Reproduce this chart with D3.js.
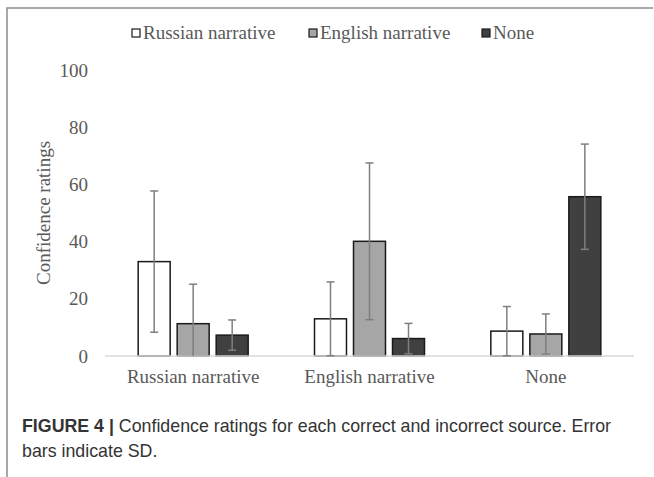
<!DOCTYPE html>
<html>
<head>
<meta charset="utf-8">
<script src="https://cdn.jsdelivr.net/npm/d3@7"></script>
<style>
  body { margin: 0; background: #fff; }
  svg { display: block; }
</style>
</head>
<body>
<div id="chart"></div>
<script>
// categories along the x axis and the three series (source chosen)
const categories = ["Russian narrative", "English narrative", "None"];
const seriesNames = ["Russian narrative", "English narrative", "None"];

// mean confidence per category, one array per series
const russianMean = [33.0, 13.0, 8.7];
const englishMean = [11.3, 40.1, 7.7];
const noneMean = [7.3, 6.1, 55.7];

// standard deviations (error bars)
const russianSD = [24.7, 12.9, 8.6];
const englishSD = [13.8, 27.4, 7.0];
const noneSD = [5.3, 5.3, 18.4];

const yTicks = [0, 20, 40, 60, 80, 100];
const fills = ["#ffffff", "#a6a6a6", "#404040"];

const width = 654;
const height = 477;

const svg = d3.select('#chart')
    .append('svg')
    .attr('width', width)
    .attr('height', height);

// outer frame (left and top rule)
svg.append('path')
    .attr('d', 'M7,477 L7,8 L653,8')
    .attr('fill', 'none')
    .attr('stroke', '#8c8c8c')
    .attr('stroke-width', 1.5);

const x = d3.scaleBand()
    .domain(categories)
    .range([105, 634])
    .padding(0);

const xInner = d3.scaleBand()
    .domain(seriesNames)
    .range([-55, 55])
    .paddingInner(0.18)
    .paddingOuter(0);

const y = d3.scaleLinear()
    .domain([0, 100])
    .range([356, 70]);

const means = [russianMean, englishMean, noneMean];
const sds = [russianSD, englishSD, noneSD];

// flatten to one record per bar
const rows = [];
seriesNames.forEach((s, si) => {
    categories.forEach((c, ci) => {
        rows.push({ series: s, si: si, cat: c, mean: means[si][ci], sd: sds[si][ci] });
    });
});

// y axis labels (no line, no ticks)
const yAxis = svg.append('g')
    .attr('transform', 'translate(92,0)')
    .call(d3.axisLeft(y).tickValues(yTicks).tickSize(0).tickPadding(4));
yAxis.select('.domain').remove();
yAxis.selectAll('text')
    .attr('font-family', '"Liberation Serif", "Times New Roman", serif')
    .attr('font-size', 19)
    .attr('fill', '#595959');

// y title
svg.append('text')
    .attr('transform', 'translate(50,213) rotate(-90)')
    .attr('text-anchor', 'middle')
    .attr('font-family', '"Liberation Serif", "Times New Roman", serif')
    .attr('font-size', 19)
    .attr('fill', '#595959')
    .text('Confidence ratings');

// bars
const barG = svg.append('g');
barG.selectAll('rect')
    .data(rows)
    .enter()
    .append('rect')
    .attr('x', d => x(d.cat) + x.bandwidth() / 2 + xInner(d.series))
    .attr('y', d => y(d.mean))
    .attr('width', xInner.bandwidth())
    .attr('height', d => y(0) - y(d.mean))
    .attr('fill', d => fills[d.si])
    .attr('stroke', '#1a1a1a')
    .attr('stroke-width', 1.5);

// baseline
svg.append('line')
    .attr('x1', x.range()[0])
    .attr('x2', x.range()[1])
    .attr('y1', y(0))
    .attr('y2', y(0))
    .attr('stroke', '#d9d9d9')
    .attr('stroke-width', 1.5);

// error bars
const errG = svg.append('g')
    .attr('stroke', '#7f7f7f')
    .attr('stroke-width', 1.5);
rows.forEach(d => {
    const cx = x(d.cat) + x.bandwidth() / 2 + xInner(d.series) + xInner.bandwidth() / 2;
    const hi = d.mean + d.sd;
    const lo = Math.max(0, d.mean - d.sd);
    errG.append('line')
        .attr('x1', cx).attr('x2', cx)
        .attr('y1', y(hi)).attr('y2', y(lo));
    errG.append('line')
        .attr('x1', cx - 4).attr('x2', cx + 4)
        .attr('y1', y(hi)).attr('y2', y(hi));
    if (d.mean - d.sd >= 0) {
        errG.append('line')
            .attr('x1', cx - 4).attr('x2', cx + 4)
            .attr('y1', y(lo)).attr('y2', y(lo));
    }
});

// x axis labels
const xAxis = svg.append('g')
    .attr('transform', `translate(0,${y(0)})`)
    .call(d3.axisBottom(x).tickSize(0).tickPadding(14));
xAxis.select('.domain').remove();
xAxis.selectAll('text')
    .attr('font-family', '"Liberation Serif", "Times New Roman", serif')
    .attr('font-size', 19)
    .attr('fill', '#595959');

// legend
const legendX = [132, 309, 482];
const legend = svg.append('g');
seriesNames.forEach((s, i) => {
    legend.append('rect')
        .attr('x', legendX[i])
        .attr('y', 29)
        .attr('width', 8)
        .attr('height', 8)
        .attr('fill', fills[i])
        .attr('stroke', '#1a1a1a')
        .attr('stroke-width', 1.2);
    legend.append('text')
        .attr('x', legendX[i] + 11)
        .attr('y', 39)
        .attr('font-family', '"Liberation Serif", "Times New Roman", serif')
        .attr('font-size', 19)
        .attr('fill', '#595959')
        .text(s);
});

// figure caption
const cap = svg.append('text')
    .attr('x', 22)
    .attr('y', 432)
    .attr('font-family', '"Liberation Sans", Arial, Helvetica, sans-serif')
    .attr('font-size', 17.8)
    .attr('fill', '#333333');
cap.append('tspan').attr('font-weight', 'bold').text('FIGURE 4 | ');
cap.append('tspan').text('Confidence ratings for each correct and incorrect source. Error');
svg.append('text')
    .attr('x', 22)
    .attr('y', 457)
    .attr('font-family', '"Liberation Sans", Arial, Helvetica, sans-serif')
    .attr('font-size', 17.8)
    .attr('fill', '#333333')
    .text('bars indicate SD.');
</script>
</body>
</html>
